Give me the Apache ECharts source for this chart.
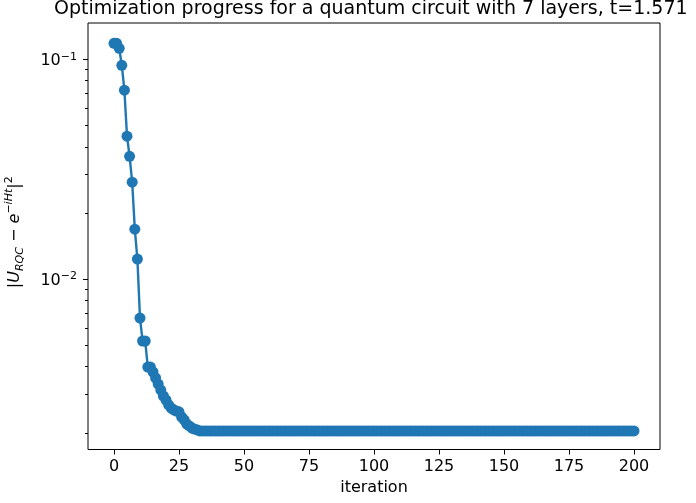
<!DOCTYPE html>
<html>
<head>
<meta charset="utf-8">
<title>Optimization progress</title>
<script src="https://cdn.jsdelivr.net/npm/echarts@6.0.0/dist/echarts.min.js"></script>
<style>
  html, body { margin: 0; padding: 0; background: #fff; }
  #main { width: 696px; height: 503px; }
</style>
</head>
<body>
<div id="main"></div>
<script>
// loss per iteration
var lossValues = [
  0.1182, 0.1182, 0.1122, 0.0939, 0.0723, 0.0447, 0.0362, 0.0276, 0.01688, 0.01233,
  0.00665, 0.00523, 0.00523, 0.00398, 0.00398, 0.00378, 0.00355, 0.00333, 0.00313, 0.00294,
  0.00282, 0.00268, 0.00259, 0.00254, 0.00251, 0.00249, 0.00236, 0.00229, 0.00219, 0.00215,
  0.00210, 0.00208, 0.00206,
  0.00204, 0.00204, 0.00204, 0.00204, 0.00204, 0.00204, 0.00204, 0.00204, 0.00204, 0.00204, 0.00204, 0.00204,
  0.00204, 0.00204, 0.00204, 0.00204, 0.00204, 0.00204, 0.00204, 0.00204, 0.00204, 0.00204, 0.00204, 0.00204,
  0.00204, 0.00204, 0.00204, 0.00204, 0.00204, 0.00204, 0.00204, 0.00204, 0.00204, 0.00204, 0.00204, 0.00204,
  0.00204, 0.00204, 0.00204, 0.00204, 0.00204, 0.00204, 0.00204, 0.00204, 0.00204, 0.00204, 0.00204, 0.00204,
  0.00204, 0.00204, 0.00204, 0.00204, 0.00204, 0.00204, 0.00204, 0.00204, 0.00204, 0.00204, 0.00204, 0.00204,
  0.00204, 0.00204, 0.00204, 0.00204, 0.00204, 0.00204, 0.00204, 0.00204, 0.00204, 0.00204, 0.00204, 0.00204,
  0.00204, 0.00204, 0.00204, 0.00204, 0.00204, 0.00204, 0.00204, 0.00204, 0.00204, 0.00204, 0.00204, 0.00204,
  0.00204, 0.00204, 0.00204, 0.00204, 0.00204, 0.00204, 0.00204, 0.00204, 0.00204, 0.00204, 0.00204, 0.00204,
  0.00204, 0.00204, 0.00204, 0.00204, 0.00204, 0.00204, 0.00204, 0.00204, 0.00204, 0.00204, 0.00204, 0.00204,
  0.00204, 0.00204, 0.00204, 0.00204, 0.00204, 0.00204, 0.00204, 0.00204, 0.00204, 0.00204, 0.00204, 0.00204,
  0.00204, 0.00204, 0.00204, 0.00204, 0.00204, 0.00204, 0.00204, 0.00204, 0.00204, 0.00204, 0.00204, 0.00204,
  0.00204, 0.00204, 0.00204, 0.00204, 0.00204, 0.00204, 0.00204, 0.00204, 0.00204, 0.00204, 0.00204, 0.00204,
  0.00204, 0.00204, 0.00204, 0.00204, 0.00204, 0.00204, 0.00204, 0.00204, 0.00204, 0.00204, 0.00204, 0.00204,
  0.00204, 0.00204, 0.00204, 0.00204, 0.00204, 0.00204, 0.00204, 0.00204, 0.00204, 0.00204, 0.00204, 0.00204
];
var xTicks = [0, 25, 50, 75, 100, 125, 150, 175, 200];
var yMajorTicks = [0.01, 0.1];
var yMinorTicks = [0.002, 0.003, 0.004, 0.005, 0.006, 0.007, 0.008, 0.009,
                   0.02, 0.03, 0.04, 0.05, 0.06, 0.07, 0.08, 0.09];
var titleText = 'Optimization progress for a quantum circuit with 7 layers, t=1.571';

var FONT = 'DejaVu Sans';
var BLUE = '#1f77b4';
var yMin = 0.001679, yMax = 0.1462;

var chart = echarts.init(document.getElementById('main'), null, { renderer: 'canvas' });

var seriesData = lossValues.map(function (v, i) { return [i, v]; });

var option = {
  animation: false,
  backgroundColor: '#fff',
  title: {
    text: titleText,
    left: 54,
    top: 0,
    padding: 0,
    textStyle: { fontFamily: FONT, fontSize: 19, fontWeight: 'normal', color: '#000' }
  },
  grid: {
    left: 88, right: 36, top: 23, bottom: 53.5,
    show: true, borderColor: '#000', borderWidth: 1, backgroundColor: 'transparent',
    containLabel: false, outerBoundsMode: 'none'
  },
  xAxis: {
    type: 'value',
    min: -10, max: 210,
    name: 'iteration',
    nameLocation: 'middle',
    nameGap: 28,
    nameTextStyle: { fontFamily: FONT, fontSize: 16, color: '#000' },
    axisLine: { show: false, onZero: false },
    axisTick: { show: true, length: 5, customValues: xTicks, lineStyle: { color: '#000', width: 1 } },
    axisLabel: { customValues: xTicks, margin: 9, fontFamily: FONT, fontSize: 16, color: '#000' },
    splitLine: { show: false }
  },
  yAxis: [
    {
      type: 'log',
      position: 'left',
      min: yMin, max: yMax,
      name: '{n||}{i|U}{sub|RQC}{n| \u2212 }{i|e}{sup|\u2212iHt}{n||}{sup2|2}',
      nameLocation: 'middle',
      nameRotate: 90,
      nameGap: 62,
      nameTextStyle: {
        fontFamily: FONT, fontSize: 16, color: '#000',
        padding: [0, 0, 0, 8],
        rich: {
          n: { fontFamily: FONT, fontSize: 16, lineHeight: 22, color: '#000' },
          i: { fontFamily: FONT, fontStyle: 'italic', fontSize: 16, lineHeight: 22, color: '#000' },
          sub: { fontFamily: FONT, fontStyle: 'italic', fontSize: 11, lineHeight: 12, verticalAlign: 'bottom', color: '#000' },
          sup: { fontFamily: FONT, fontStyle: 'italic', fontSize: 11, lineHeight: 12, verticalAlign: 'top', color: '#000' },
          sup2: { fontFamily: FONT, fontSize: 11, lineHeight: 12, verticalAlign: 'top', color: '#000' }
        }
      },
      axisLine: { show: false, onZero: false },
      axisTick: { show: true, length: 5, customValues: yMajorTicks, lineStyle: { color: '#000', width: 1 } },
      axisLabel: {
        customValues: yMajorTicks,
        margin: 11,
        padding: [4, 0, 0, 0],
        formatter: function (v) {
          var e = Math.round(Math.log10(v));
          return '{b|10}{s|\u2212' + (-e) + '}';
        },
        rich: {
          b: { fontFamily: FONT, fontSize: 16, lineHeight: 20, color: '#000' },
          s: { fontFamily: FONT, fontSize: 11, lineHeight: 11, verticalAlign: 'top', color: '#000' }
        }
      },
      splitLine: { show: false }
    },
    {
      // minor ticks only
      type: 'log',
      position: 'left',
      min: yMin, max: yMax,
      axisLine: { show: false, onZero: false },
      axisTick: { show: true, length: 3, customValues: yMinorTicks, lineStyle: { color: '#000', width: 1 } },
      axisLabel: { show: false },
      splitLine: { show: false }
    }
  ],
  series: [
    {
      type: 'line',
      yAxisIndex: 0,
      data: seriesData,
      symbol: 'circle',
      symbolSize: 11,
      showSymbol: true,
      showAllSymbol: true,
      lineStyle: { color: BLUE, width: 2.4 },
      itemStyle: { color: BLUE },
      emphasis: { disabled: true }
    }
  ]
};

chart.setOption(option);
</script>
</body>
</html>
